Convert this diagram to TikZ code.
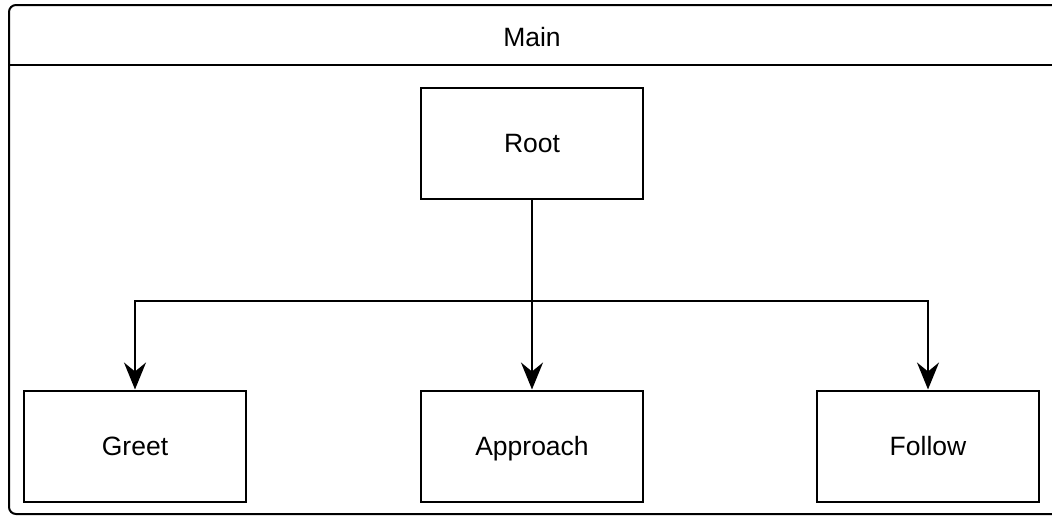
\documentclass[tikz,border=0pt]{standalone}
\usepackage{fontspec}
\setmainfont{Liberation Sans}
\usetikzlibrary{arrows.meta}
\begin{document}
\begin{tikzpicture}[x=1pt,y=-1pt,
  label text/.style={font=\fontsize{26.5}{32}\selectfont, text height=18pt, text depth=0pt},
  block/.style={label text, draw=black, line width=2pt, minimum width=222pt, minimum height=111pt,
    inner sep=0pt},
  link/.style={draw=black, line width=2pt,
    -{Stealth[length=27pt,width=22pt,inset=9pt]}}]
  \clip (0,0) rectangle (1052,517);
  \useasboundingbox (0,0) rectangle (1052,517);
  % container with title bar
  \draw[line width=2pt, rounded corners=7pt] (9,65) -- (9,514) -- (1060,514) -- (1060,5) -- (9,5) -- cycle;
  \draw[line width=2pt] (9,65) -- (1060,65);
  \node[label text, inner sep=0pt] (title) at (532,37) {Main};
  % blocks
  \node[block] (root) at (532,143.5) {Root};
  \node[block] (greet) at (135,446) {Greet};
  \node[block] (approach) at (532,446) {Approach};
  \node[block] (follow) at (928,446) {Follow};
  \coordinate (split) at (532,301);
  % connectors
  \draw[link] (root.south) -- (split) -| (greet.north);
  \draw[link] (root.south) -- (approach.north);
  \draw[link] (root.south) -- (split) -| (follow.north);
\end{tikzpicture}
\end{document}
